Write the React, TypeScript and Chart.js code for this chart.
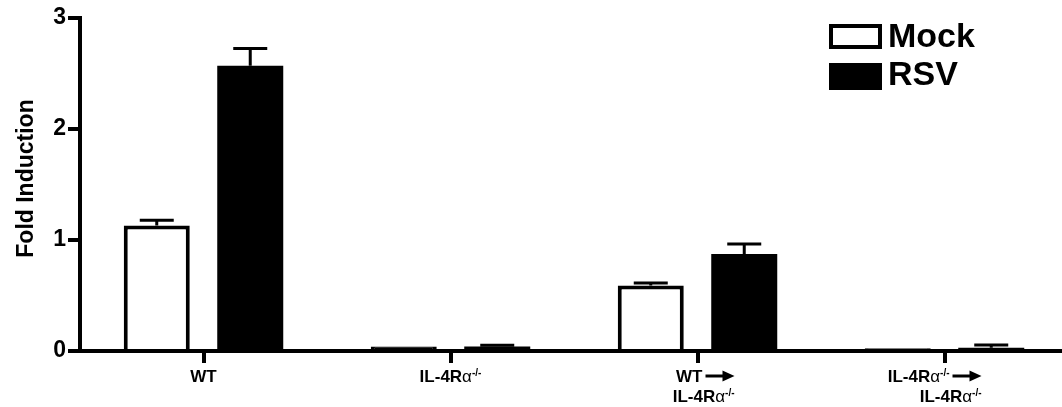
import React, { useEffect, useRef } from "react";
import { Chart, registerables } from "chart.js";

Chart.register(...registerables);

// ---------- DATA ----------
const categories: string[][] = [
  ["WT"],
  ["IL-4Rα-/-"],
  ["WT→", "IL-4Rα-/-"],
  ["IL-4Rα-/-→", "IL-4Rα-/-"],
];
const seriesNames = ["Mock", "RSV"];
const mockValues = [1.13, 0.04, 0.59, 0.025];
const mockErrors = [0.047, 0, 0.022, 0];
const rsvValues = [2.57, 0.04, 0.875, 0.03];
const rsvErrors = [0.155, 0.012, 0.09, 0.025];
const yMin = 0;
const yMax = 3;
const yStep = 1;
const yTitle = "Fold Induction";

// ---------- STYLE ----------
const FAMILY = '"Liberation Sans", Arial, Helvetica, sans-serif';
const BLACK = "#000000";

type Tok = { kind: "text" | "greek" | "sup" | "arrow"; text: string };

function tokenize(line: string): Tok[] {
  return line
    .split(/(α|-\/-|→)/)
    .filter((s) => s.length > 0)
    .map((p) => {
      if (p === "α") return { kind: "greek", text: p } as Tok;
      if (p === "-/-") return { kind: "sup", text: p } as Tok;
      if (p === "→") return { kind: "arrow", text: p } as Tok;
      return { kind: "text", text: p } as Tok;
    });
}

function fontFor(kind: Tok["kind"]) {
  if (kind === "greek") return `17px ${FAMILY}`;
  if (kind === "sup") return `bold 10px ${FAMILY}`;
  return `bold 17px ${FAMILY}`;
}

const ARROW_W = 32;

function tokWidth(ctx: CanvasRenderingContext2D, t: Tok) {
  if (t.kind === "arrow") return ARROW_W;
  ctx.font = fontFor(t.kind);
  return ctx.measureText(t.text).width;
}

function lineWidthOf(ctx: CanvasRenderingContext2D, toks: Tok[]) {
  return toks.reduce((s, t) => s + tokWidth(ctx, t), 0);
}

function drawLine(ctx: CanvasRenderingContext2D, toks: Tok[], x0: number, baseline: number) {
  let x = x0;
  ctx.fillStyle = BLACK;
  ctx.strokeStyle = BLACK;
  ctx.textAlign = "left";
  ctx.textBaseline = "alphabetic";
  for (const t of toks) {
    const w = tokWidth(ctx, t);
    if (t.kind === "arrow") {
      const yc = baseline - 6;
      const start = x + 3;
      const end = x + w;
      const head = 12;
      ctx.lineWidth = 3;
      ctx.beginPath();
      ctx.moveTo(start, yc);
      ctx.lineTo(end - head + 1, yc);
      ctx.stroke();
      ctx.beginPath();
      ctx.moveTo(end - head, yc - 5.5);
      ctx.lineTo(end, yc);
      ctx.lineTo(end - head, yc + 5.5);
      ctx.closePath();
      ctx.fill();
    } else {
      ctx.font = fontFor(t.kind);
      const yy = t.kind === "sup" ? baseline - 6 : baseline;
      ctx.fillText(t.text, x, yy);
    }
    x += w;
  }
}

const customDraw = {
  id: "customDraw",
  afterDatasetsDraw(chart: any) {
    const ctx: CanvasRenderingContext2D = chart.ctx;
    const yScale = chart.scales.y;
    const errs = [mockErrors, rsvErrors];
    const vals = [mockValues, rsvValues];
    ctx.save();
    ctx.strokeStyle = BLACK;
    ctx.lineWidth = 3;
    chart.data.datasets.forEach((_ds: any, di: number) => {
      const meta = chart.getDatasetMeta(di);
      meta.data.forEach((bar: any, i: number) => {
        const e = errs[di][i];
        if (!e || e <= 0) return;
        const yTop = yScale.getPixelForValue(vals[di][i] + e);
        const yBar = yScale.getPixelForValue(vals[di][i]);
        ctx.beginPath();
        ctx.moveTo(bar.x, yBar);
        ctx.lineTo(bar.x, yTop);
        ctx.moveTo(bar.x - 17, yTop);
        ctx.lineTo(bar.x + 17, yTop);
        ctx.stroke();
      });
    });
    ctx.restore();
  },
  afterDraw(chart: any) {
    const ctx: CanvasRenderingContext2D = chart.ctx;
    const xScale = chart.scales.x;
    const area = chart.chartArea;
    ctx.save();

    // x category labels
    categories.forEach((lines, i) => {
      const cx = xScale.getPixelForValue(i);
      if (lines.length === 1) {
        const toks = tokenize(lines[0]);
        const w = lineWidthOf(ctx, toks);
        drawLine(ctx, toks, cx - w / 2, area.bottom + 31);
      } else {
        const right = cx + 37;
        lines.forEach((ln, li) => {
          const toks = tokenize(ln);
          const w = lineWidthOf(ctx, toks);
          drawLine(ctx, toks, right - w, area.bottom + 31 + li * 20);
        });
      }
    });

    // y title
    ctx.save();
    ctx.translate(area.left - 47, (area.top + area.bottom) / 2 - 6);
    ctx.rotate(-Math.PI / 2);
    ctx.font = `bold 23px ${FAMILY}`;
    ctx.fillStyle = BLACK;
    ctx.textAlign = "center";
    ctx.textBaseline = "alphabetic";
    ctx.fillText(yTitle, 0, 0);
    ctx.restore();

    // legend
    const lx = area.right - 239;
    const boxW = 53;
    const rows = [
      { top: 24, h: 25, fill: "#ffffff", base: 47 },
      { top: 63, h: 27, fill: BLACK, base: 85 },
    ];
    seriesNames.forEach((name, i) => {
      const r = rows[i];
      ctx.fillStyle = r.fill;
      ctx.fillRect(lx, r.top, boxW, r.h);
      ctx.lineWidth = 4;
      ctx.strokeStyle = BLACK;
      ctx.strokeRect(lx + 2, r.top + 2, boxW - 4, r.h - 4);
      ctx.fillStyle = BLACK;
      ctx.font = `bold 34px ${FAMILY}`;
      ctx.textAlign = "left";
      ctx.textBaseline = "alphabetic";
      ctx.fillText(name, lx + boxW + 6, r.base);
    });
    ctx.restore();
  },
};

// hollow bars that are too thin to show an interior render as solid outline
function mockFill(c: any) {
  const y = c.chart.scales?.y;
  if (!y || c.raw == null) return "#ffffff";
  const h = y.getPixelForValue(0) - y.getPixelForValue(c.raw);
  return h < 8 ? BLACK : "#ffffff";
}

export default function App() {
  const ref = useRef<HTMLCanvasElement | null>(null);

  useEffect(() => {
    if (!ref.current) return;
    const chart = new Chart(ref.current, {
      type: "bar",
      data: {
        labels: categories.map((c) => c.join(" ")),
        datasets: [
          {
            label: seriesNames[0],
            data: mockValues,
            backgroundColor: mockFill,
            borderColor: BLACK,
            borderWidth: 4,
            categoryPercentage: 0.757,
            barPercentage: 0.706,
          },
          {
            label: seriesNames[1],
            data: rsvValues,
            backgroundColor: BLACK,
            borderColor: BLACK,
            borderWidth: 0,
            categoryPercentage: 0.757,
            barPercentage: 0.706,
          },
        ],
      },
      options: {
        responsive: false,
        animation: false,
        layout: { padding: { top: 18, right: 0, bottom: 0, left: 0 } },
        plugins: {
          legend: { display: false },
          tooltip: { enabled: false },
        },
        scales: {
          x: {
            type: "category",
            offset: true,
            z: 1,
            grid: {
              display: true,
              drawOnChartArea: false,
              drawTicks: true,
              tickLength: 12,
              lineWidth: 4,
              color: BLACK,
              offset: false,
            },
            border: { display: true, color: BLACK, width: 4 },
            ticks: { display: false },
            afterFit: (s: any) => {
              s.height = 56;
            },
          },
          y: {
            min: yMin,
            max: yMax,
            z: 1,
            ticks: {
              stepSize: yStep,
              color: BLACK,
              padding: 2,
              font: { family: FAMILY, weight: "bold", size: 23 },
            },
            grid: {
              drawOnChartArea: false,
              drawTicks: true,
              tickLength: 12,
              lineWidth: 4,
              color: BLACK,
            },
            border: { display: true, color: BLACK, width: 4 },
            afterFit: (s: any) => {
              s.width = 80;
            },
          },
        },
      } as any,
      plugins: [customDraw],
    });
    return () => chart.destroy();
  }, []);

  return (
    <div
      style={{
        position: "fixed",
        left: 0,
        top: 0,
        width: 1062,
        height: 407,
        overflow: "hidden",
        background: "#ffffff",
      }}
    >
      <canvas ref={ref} width={1068} height={407} style={{ display: "block" }} />
    </div>
  );
}
